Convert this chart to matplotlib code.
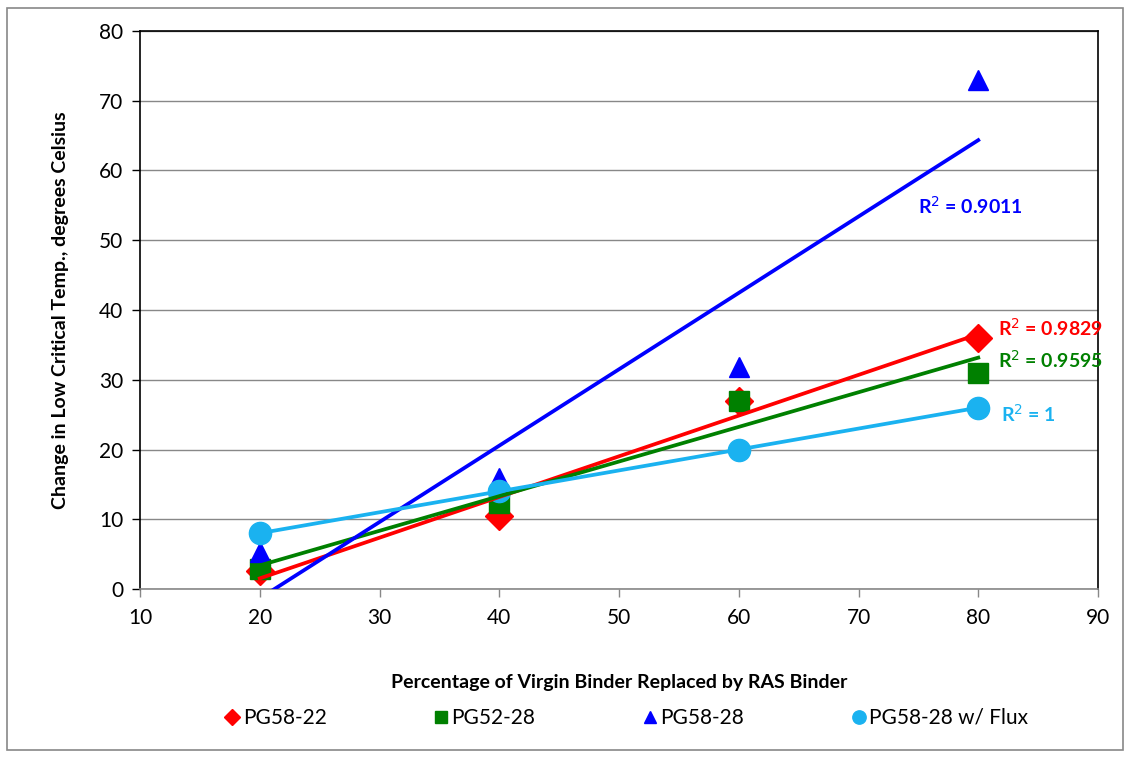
import numpy as np
import matplotlib.pyplot as plt
from matplotlib.lines import Line2D
from matplotlib.patches import Rectangle

plt.rcParams['font.family'] = ['Lato', 'DejaVu Sans']

# Percent of virgin binder replaced by RAS binder
pct = [20, 40, 60, 80]

# Change in low critical temperature (deg C) per binder grade
pg58_22 = [2.6, 10.5, 27, 36]
pg52_28 = [2.8, 12.3, 27, 31]
pg58_28 = [5.3, 15.9, 31.8, 73]
pg58_28_flux = [8, 14, 20, 26]

series_names = ['PG58-22', 'PG52-28', 'PG58-28', 'PG58-28 w/ Flux']
series_vals = [pg58_22, pg52_28, pg58_28, pg58_28_flux]
r2_text = ['0.9829', '0.9595', '0.9011', '1']
r2_pos = [(81.65, 37.4), (81.65, 32.8), (75.0, 55.0), (81.9, 25.1)]

colors = ['#ff0000', '#008000', '#0000ff', '#1ab2f0']
markers = ['D', 's', '^', 'o']
msizes = [14, 15, 15, 16]

fig = plt.figure(figsize=(11.3, 7.57), dpi=100)
ax = fig.add_axes([140 / 1130, 1 - 589 / 757, 958 / 1130, 558 / 757])

x = np.array(pct, dtype=float)
for vals, c, m, ms, txt, pos in zip(series_vals, colors, markers, msizes, r2_text, r2_pos):
    y = np.array(vals, dtype=float)
    ax.plot(x, y, linestyle='none', marker=m, markersize=ms, color=c,
            markeredgecolor=c, zorder=3, clip_on=False)
    # linear trendline over the data range
    slope, icpt = np.polyfit(x, y, 1)
    ax.plot(x[[0, -1]], slope * x[[0, -1]] + icpt, color=c, lw=2.7, zorder=4)
    ax.text(pos[0], pos[1], f'R$^2$ = {txt}', color=c, fontsize=14,
            fontweight='bold', ha='left', va='center', clip_on=False)

ax.set_xlim(10, 90)
ax.set_ylim(0, 80)
ax.set_xticks(range(10, 91, 10))
ax.set_yticks(range(0, 81, 10))
ax.tick_params(axis='both', labelsize=15, direction='out', length=6, width=1)
ax.tick_params(axis='x', color='#888888', pad=8)
ax.tick_params(axis='y', color='black', pad=6)
ax.yaxis.grid(True, color='#888888', lw=1)
ax.set_axisbelow(True)

for side in ['left', 'top', 'right']:
    ax.spines[side].set_color('black')
    ax.spines[side].set_linewidth(1.2)
ax.spines['bottom'].set_color('#888888')
ax.spines['bottom'].set_linewidth(1.2)

ax.set_xlabel('Percentage of Virgin Binder Replaced by RAS Binder',
              fontsize=14, fontweight='bold', labelpad=33)
ax.set_ylabel('Change in Low Critical Temp., degrees Celsius',
              fontsize=14, fontweight='bold', labelpad=22)

handles = [Line2D([], [], linestyle='none', marker=m, color=c, markersize=s * 0.6)
           for m, c, s in zip(markers, colors, msizes)]
fig.legend(handles, series_names, loc='center', bbox_to_anchor=(625 / 1130, 1 - 718 / 757),
           ncol=4, frameon=False, fontsize=15, handletextpad=0.0,
           columnspacing=5.0, handlelength=1.0)

# outer chart border
fig.patches.append(Rectangle((7 / 1130, 7 / 757), 1116 / 1130, 742 / 757,
                             transform=fig.transFigure, fill=False,
                             edgecolor='#888888', lw=1.2))

fig.savefig('out.png', dpi=100)
